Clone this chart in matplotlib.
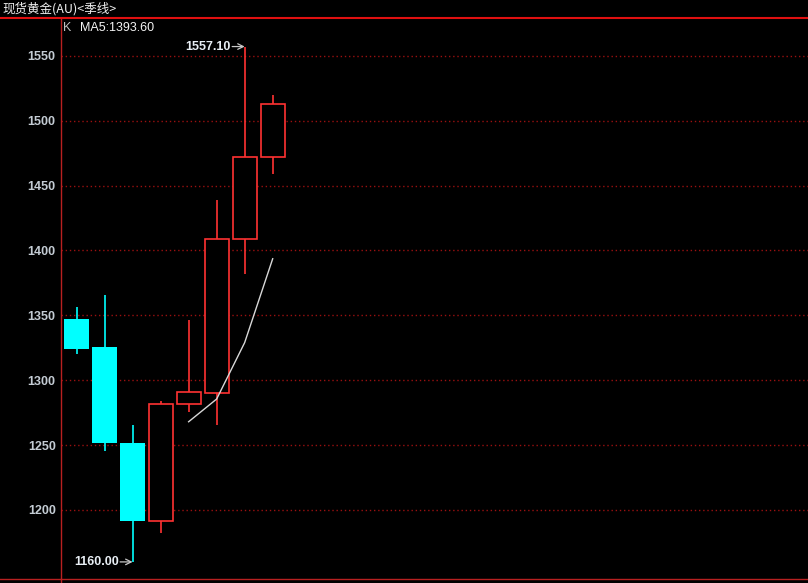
import matplotlib
matplotlib.use("Agg")
import matplotlib.pyplot as plt
from matplotlib.lines import Line2D

plt.rcParams['font.family'] = ['Noto Sans CJK SC', 'DejaVu Sans']

# quarterly candles
opens = [1347.1, 1325.5, 1252.0, 1191.2, 1281.7, 1290.4, 1408.8, 1472.2]
closes = [1324.2, 1251.3, 1191.2, 1282.0, 1291.2, 1408.8, 1472.2, 1512.6]
highs = [1356.4, 1365.7, 1265.7, 1283.7, 1346.1, 1439.0, 1557.1, 1519.6]
lows = [1320.3, 1245.1, 1160.0, 1182.0, 1275.2, 1265.4, 1381.5, 1458.8]
ma5_idx = [4, 5, 6, 7]
ma5 = [1268.0, 1285.5, 1329.0, 1393.6]
yticks = [1200, 1250, 1300, 1350, 1400, 1450, 1500, 1550]

W, H = 808, 583
fig = plt.figure(figsize=(W / 100, H / 100), dpi=100, facecolor='black')
ax = fig.add_axes([61.3 / W, (H - 579.3) / H, 1 - 61.3 / W, (579.3 - 18) / H])
ax.set_facecolor('black')

up_col = '#ff3232'
dn_col = '#00ffff'
bw = 0.86
num_font = 'Liberation Sans'

for i in range(len(opens)):
    o, c, h, l = opens[i], closes[i], highs[i], lows[i]
    top, bot = max(o, c), min(o, c)
    if c >= o:
        ax.vlines(i, top, h, color=up_col, lw=1.2, zorder=2)
        ax.vlines(i, l, bot, color=up_col, lw=1.2, zorder=2)
        ax.bar(i, top - bot, bottom=bot, width=bw, facecolor='black',
               edgecolor=up_col, linewidth=1.2, zorder=3)
    else:
        ax.vlines(i, l, h, color=dn_col, lw=1.2, zorder=2)
        ax.bar(i, top - bot, bottom=bot, width=bw + 0.04, color=dn_col,
               linewidth=0, zorder=3)

ax.plot(ma5_idx, ma5, color='#d8d8d8', lw=1.0, zorder=4)

# high / low markers
i_hi = highs.index(max(highs))
i_lo = lows.index(min(lows))
for i, v in [(i_hi, highs[i_hi]), (i_lo, lows[i_lo])]:
    ax.annotate('', xy=(i, v), xytext=(-9, 0), textcoords='offset points',
                arrowprops=dict(arrowstyle='->', color='#c8c8c8', lw=0.9,
                                shrinkA=0, shrinkB=0))
    ax.annotate('%.2f' % v, xy=(i, v), xytext=(-10, 0), textcoords='offset points',
                ha='right', va='center', color='#e8eef4', fontsize=9,
                fontweight='bold', family=num_font)

ax.set_xlim(-0.543, 26.1)
ax.set_ylim(1146.6, 1579.1)
ax.set_yticks(yticks)
ax.set_yticklabels([str(t) for t in yticks], color='#c4ccd4', fontsize=9,
                   fontweight='bold', family=num_font)
ax.tick_params(axis='y', length=0, pad=4)
ax.set_xticks([])
ax.grid(axis='y', color='#9a1010', linestyle=(0, (1, 2)), lw=1.0)
for s in ['top', 'right', 'bottom']:
    ax.spines[s].set_visible(False)
ax.spines['left'].set_color('#b82020')
ax.spines['left'].set_linewidth(1.0)

# frame lines across the whole figure
fig.add_artist(Line2D([0, 1], [(H - 18) / H] * 2, color='#e01010', lw=1.5))
fig.add_artist(Line2D([0, 1], [(H - 579.3) / H] * 2, color='#b82020', lw=1.0))
fig.add_artist(Line2D([61.3 / W] * 2, [0, (H - 579.3) / H], color='#b82020', lw=1.0))

fig.text(2 / W, 1 - 9 / H, '现货黄金(AU)<季线>', color='#f0f0f0', fontsize=9,
         va='center', ha='left')
fig.text(63 / W, 1 - 28 / H, 'K', color='#c0c0c0', fontsize=9, va='center',
         family=num_font)
fig.text(80 / W, 1 - 28 / H, 'MA5:%.2f' % ma5[-1], color='#f4f4f4', fontsize=9,
         va='center', family=num_font)

fig.savefig('out.png', dpi=100, facecolor='black')
